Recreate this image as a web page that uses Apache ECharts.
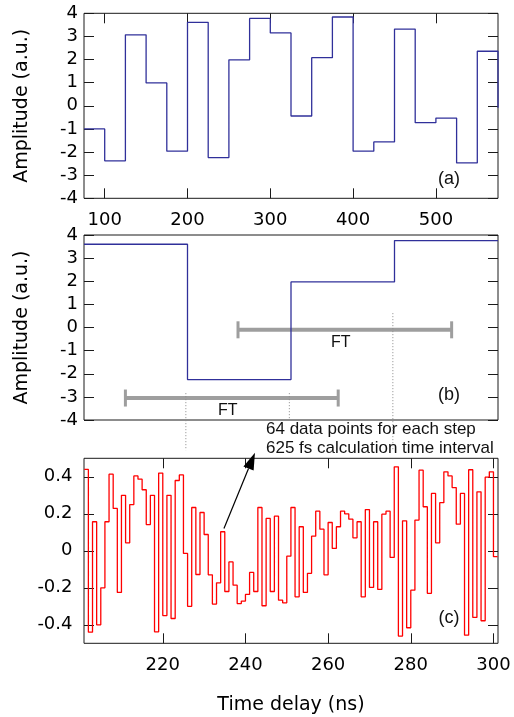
<!DOCTYPE html>
<html>
<head>
<meta charset="utf-8">
<script src="https://cdn.jsdelivr.net/npm/echarts@6/dist/echarts.min.js"></script>
<style>
  html, body { margin: 0; padding: 0; background: #fff; }
  #chart { width: 514px; height: 717px; }
</style>
</head>
<body>
<div id="chart"></div>
<script>
// ---- (a) full step sequence: step start times (ns) and amplitudes (a.u.)
const aTime = [75, 100, 125, 150, 175, 200, 225, 250, 275, 300, 325, 350, 375, 400, 425, 450, 475, 500, 525, 550, 575];
const aAmp  = [-1.0, -2.38, 3.07, 0.99, -1.96, 3.61, -2.24, 1.99, 3.78, 3.15, -0.44, 2.08, 3.84, -1.96, -1.56, 3.32, -0.73, -0.53, -2.47, 2.36, -0.08];
const aTicks = [100, 200, 300, 400, 500];

// ---- (b) four steps shown stretched, with the two FT windows
const bEdges = [75, 200, 325, 450, 575];
const bAmp   = [3.6, -2.25, 1.97, 3.76];
const ftStart = [261, 125];
const ftEnd   = [519, 382];
const ftLevel = [-0.1, -3.05];
const guideX      = [198, 323, 448];
const guideTop    = [-2.84, -2.84, 0.62];
const guideBottom = [-5.31, -4.0, -5.31];

// ---- (c) sampled signal: step edges (ns) and amplitudes
const cEdges = [201, 202, 203, 204, 205, 206, 207, 208, 209, 210, 211, 212, 213, 214, 215, 216, 217, 218, 219, 220,
                221, 222, 223, 224, 225, 226, 227, 228, 229, 230, 231, 232, 233, 234, 235, 236, 237, 238, 239, 240,
                241, 242, 243, 244, 245, 246, 247, 248, 249, 250, 251, 252, 253, 254, 255, 256, 257, 258, 259, 260,
                261, 262, 263, 264, 265, 266, 267, 268, 269, 270, 271, 272, 273, 274, 275, 276, 277, 278, 279, 280,
                281, 282, 283, 284, 285, 286, 287, 288, 289, 290, 291, 292, 293, 294, 295, 296, 297, 298, 299, 300, 301];
const cAmp = [0.44, -0.44, 0.157, -0.40, -0.20, 0.157, 0.414, 0.229, -0.225, 0.30,
              0.043, 0.25, 0.405, 0.387, 0.33, 0.142, 0.30, -0.438, 0.42, -0.35,
              0.30, -0.366, 0.38, 0.41, -0.014, -0.30, 0.234, -0.128, 0.207, 0.088,
              -0.13, -0.288, -0.173, 0.103, -0.22, -0.06, -0.186, -0.285, -0.272, -0.236,
              -0.117, -0.22, 0.234, -0.297, 0.175, -0.22, 0.187, -0.267, -0.281, -0.029,
              0.234, -0.249, 0.13, -0.225, -0.122, 0.079, 0.214, 0.117, -0.13, 0.153,
              0.013, 0.13, 0.214, 0.20, 0.171, 0.07, 0.157, -0.249, 0.223, -0.198,
              0.157, -0.209, 0.198, 0.214, -0.036, 0.454, -0.461, 0.162, -0.416, -0.213,
              0.166, 0.436, 0.238, -0.23, 0.31, 0.043, 0.26, 0.427, 0.405, 0.342,
              0.144, 0.31, -0.456, 0.438, -0.36, 0.319, -0.378, 0.398, 0.427, -0.032];
const cTicks = [220, 240, 260, 280, 300];
const cAmpTicks = [-0.4, -0.2, 0, 0.2, 0.4];
const arrowFrom = [234.8, 0.12];
const arrowTo   = [242.3, 0.53];

// step series: each amplitude holds until the next edge
function stepData(edges, amps) {
  const out = [];
  for (let i = 0; i < amps.length; i++) out.push([edges[i], amps[i]]);
  if (edges.length > amps.length) out.push([edges[amps.length], amps[amps.length - 1]]);
  return out;
}

const ink = '#1a1a1a';
const tickFont = { fontFamily: 'DejaVu Sans', fontSize: 18, color: '#000' };
const inTick = { show: true, inside: true, length: 10, lineStyle: { color: ink, width: 1 } };
const noLine = { show: false, onZero: false };
const noSplit = { show: false };

function frameGrid(top) {
  return { left: 84, right: 16, top: top, height: 185, show: true, borderColor: ink, borderWidth: 1,
           backgroundColor: 'transparent', outerBoundsMode: 'none' };
}

const ampName = {
  name: 'Amplitude (a.u.)', nameLocation: 'middle', nameGap: 52, nameRotate: 90,
  nameTextStyle: { fontFamily: 'DejaVu Sans', fontSize: 19, color: '#000' }
};

const chart = echarts.init(document.getElementById('chart'), null, { renderer: 'canvas' });

chart.setOption({
  animation: false,
  backgroundColor: '#fff',
  grid: [frameGrid(13.3), frameGrid(235), frameGrid(458.3)],
  xAxis: [
    { gridIndex: 0, type: 'value', min: 75, max: 575, position: 'bottom', axisLine: noLine, splitLine: noSplit,
      axisTick: Object.assign({}, inTick, { customValues: aTicks }),
      axisLabel: Object.assign({}, tickFont, { margin: 13, customValues: aTicks }) },
    { gridIndex: 0, type: 'value', min: 75, max: 575, position: 'top', axisLine: noLine, splitLine: noSplit,
      axisTick: Object.assign({}, inTick, { customValues: aTicks }), axisLabel: { show: false } },
    { gridIndex: 1, type: 'value', min: 75, max: 575, position: 'bottom', axisLine: noLine, splitLine: noSplit,
      axisTick: { show: false }, axisLabel: { show: false } },
    { gridIndex: 2, type: 'value', min: 200.94, max: 301.1, position: 'bottom', axisLine: noLine, splitLine: noSplit,
      axisTick: Object.assign({}, inTick, { customValues: cTicks }),
      axisLabel: Object.assign({}, tickFont, { margin: 13, customValues: cTicks }),
      name: 'Time delay (ns)', nameLocation: 'middle', nameGap: 52,
      nameTextStyle: { fontFamily: 'DejaVu Sans', fontSize: 19, color: '#000' } },
    { gridIndex: 2, type: 'value', min: 200.94, max: 301.1, position: 'top', axisLine: noLine, splitLine: noSplit,
      axisTick: Object.assign({}, inTick, { customValues: cTicks }), axisLabel: { show: false } }
  ],
  yAxis: [
    Object.assign({ gridIndex: 0, type: 'value', min: -4, max: 4, interval: 1, position: 'left',
      axisLine: noLine, splitLine: noSplit, axisTick: inTick,
      axisLabel: Object.assign({}, tickFont, { margin: 6 }) }, ampName),
    { gridIndex: 0, type: 'value', min: -4, max: 4, interval: 1, position: 'right',
      axisLine: noLine, splitLine: noSplit, axisTick: inTick, axisLabel: { show: false } },
    Object.assign({ gridIndex: 1, type: 'value', min: -4, max: 4, interval: 1, position: 'left',
      axisLine: noLine, splitLine: noSplit, axisTick: inTick,
      axisLabel: Object.assign({}, tickFont, { margin: 6 }) }, ampName),
    { gridIndex: 1, type: 'value', min: -4, max: 4, interval: 1, position: 'right',
      axisLine: noLine, splitLine: noSplit, axisTick: inTick, axisLabel: { show: false } },
    { gridIndex: 2, type: 'value', min: -0.5, max: 0.5, position: 'left',
      axisLine: noLine, splitLine: noSplit,
      axisTick: Object.assign({}, inTick, { customValues: cAmpTicks }),
      axisLabel: Object.assign({}, tickFont, { margin: 11.5, customValues: cAmpTicks }) },
    { gridIndex: 2, type: 'value', min: -0.5, max: 0.5, position: 'right',
      axisLine: noLine, splitLine: noSplit,
      axisTick: Object.assign({}, inTick, { customValues: cAmpTicks }), axisLabel: { show: false } }
  ],
  series: [
    { type: 'line', xAxisIndex: 0, yAxisIndex: 0, step: 'end', showSymbol: false,
      lineStyle: { color: '#30309a', width: 1.3 }, data: stepData(aTime, aAmp) },
    { type: 'line', xAxisIndex: 2, yAxisIndex: 2, step: 'end', showSymbol: false,
      lineStyle: { color: '#30309a', width: 1.3 }, data: stepData(bEdges, bAmp) },
    // FT windows with end caps
    { type: 'custom', xAxisIndex: 2, yAxisIndex: 2, clip: false,
      data: ftStart.map((s, i) => [s, ftEnd[i], ftLevel[i]]),
      renderItem: function (params, api) {
        const p0 = api.coord([api.value(0), api.value(2)]);
        const p1 = api.coord([api.value(1), api.value(2)]);
        const c = '#9e9e9e';
        return { type: 'group', children: [
          { type: 'line', shape: { x1: p0[0], y1: p0[1], x2: p1[0], y2: p1[1] }, style: { stroke: c, lineWidth: 4 } },
          { type: 'line', shape: { x1: p0[0], y1: p0[1] - 8.5, x2: p0[0], y2: p0[1] + 8.5 }, style: { stroke: c, lineWidth: 3 } },
          { type: 'line', shape: { x1: p1[0], y1: p1[1] - 8.5, x2: p1[0], y2: p1[1] + 8.5 }, style: { stroke: c, lineWidth: 3 } },
          { type: 'text', x: (p0[0] + p1[0]) / 2 - 4, y: p0[1] + 13,
            style: { text: 'FT', font: '16px "Liberation Sans"', fill: '#111', align: 'center', verticalAlign: 'middle' } }
        ] };
      } },
    // dotted guides linking step edges to the lower panel
    { type: 'custom', xAxisIndex: 2, yAxisIndex: 2, clip: false,
      data: guideX.map((x, i) => [x, guideTop[i], guideBottom[i]]),
      renderItem: function (params, api) {
        const p0 = api.coord([api.value(0), api.value(1)]);
        const p1 = api.coord([api.value(0), api.value(2)]);
        return { type: 'line', shape: { x1: p0[0], y1: p0[1], x2: p1[0], y2: p1[1] },
                 style: { stroke: '#8a8a8a', lineWidth: 1, lineDash: [1, 2] } };
      } },
    { type: 'line', xAxisIndex: 3, yAxisIndex: 4, step: 'end', showSymbol: false,
      lineStyle: { color: '#ff0000', width: 1.3 }, data: stepData(cEdges, cAmp) },
    // pointer arrow to one sampled step
    { type: 'custom', xAxisIndex: 3, yAxisIndex: 4, clip: false,
      data: [[arrowFrom[0], arrowFrom[1], arrowTo[0], arrowTo[1]]],
      renderItem: function (params, api) {
        const a = api.coord([api.value(0), api.value(1)]);
        const b = api.coord([api.value(2), api.value(3)]);
        const dx = b[0] - a[0], dy = b[1] - a[1];
        const len = Math.sqrt(dx * dx + dy * dy);
        const ux = dx / len, uy = dy / len;
        const headL = 17, headW = 11;
        const bx = b[0] - ux * headL, by = b[1] - uy * headL;
        return { type: 'group', children: [
          { type: 'line', shape: { x1: a[0], y1: a[1], x2: bx, y2: by }, style: { stroke: '#000', lineWidth: 1.2 } },
          { type: 'polygon', shape: { points: [[b[0], b[1]],
              [bx - uy * headW / 2, by + ux * headW / 2], [bx + uy * headW / 2, by - ux * headW / 2]] },
            style: { fill: '#000' } }
        ] };
      } }
  ],
  graphic: [
    { type: 'text', left: 266, top: 419.5,
      style: { text: '64 data points for each step\n625 fs calculation time interval',
               font: '17px "Liberation Sans"', fill: '#111', lineHeight: 19 } },
    { type: 'text', x: 449, y: 179, style: { text: '(a)', font: '18px "Liberation Sans"', fill: '#111', align: 'center', verticalAlign: 'middle' } },
    { type: 'text', x: 449, y: 395, style: { text: '(b)', font: '18px "Liberation Sans"', fill: '#111', align: 'center', verticalAlign: 'middle' } },
    { type: 'text', x: 449, y: 618, style: { text: '(c)', font: '18px "Liberation Sans"', fill: '#111', align: 'center', verticalAlign: 'middle' } }
  ]
});
</script>
</body>
</html>
